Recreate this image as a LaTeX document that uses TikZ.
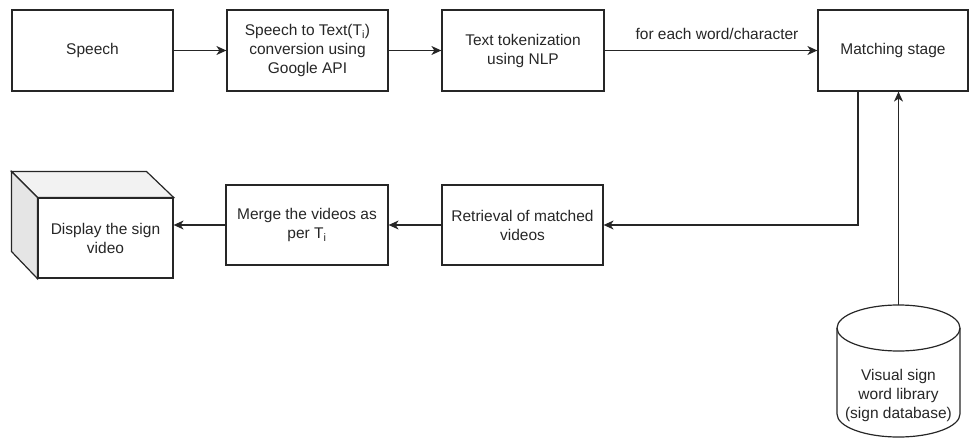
\documentclass[tikz,border=0pt]{standalone}
\usepackage{fontspec}
\setmainfont{Liberation Sans}
\usetikzlibrary{arrows.meta}

\begin{document}
\begin{tikzpicture}[x=1pt,y=-1pt,
  color=black!85, line width=1.2pt,
  every node/.style={font=\fontsize{15.5}{19}\selectfont},
  box/.style={draw, align=center, minimum width=161pt, minimum height=81pt, inner sep=0pt},
  arr/.style={-{Stealth[length=10pt,width=9pt,inset=3pt]}}]
  \useasboundingbox (0,0) rectangle (970,439);
  % top row
  \node[box] (speech) at (92.5,50.5) {Speech};
  \node[box] (stt) at (307.5,50.5) {Speech to Text(T\textsubscript{i})\\conversion using\\Google API};
  \node[box, minimum width=162pt] (token) at (523,50.5) {Text tokenization\\using NLP};
  \node[box, minimum width=150pt] (match) at (893,50.5) {Matching stage};
  % bottom row
  \node[box, minimum height=80pt] (retr) at (522.5,225) {Retrieval of matched\\videos};
  \node[box, minimum width=162pt, minimum height=80pt] (merge) at (307,225) {Merge the videos as\\per T\textsubscript{i}};
  \node[box, minimum width=135pt, minimum height=80pt] (display) at (105.5,238) {Display the sign\\video};
  \filldraw[fill=black!5] (display.north west) -- ++(-26,-26) -- ++(135,0) -- (display.north east) -- cycle;
  \filldraw[fill=black!10] (display.north west) -- ++(-26,-26) -- ++(0,80) -- (display.south west) -- cycle;
  % database
  \draw (837,328) -- (837,414) arc[start angle=180, end angle=0, x radius=61.5, y radius=23] -- (960,328);
  \draw (898.5,328) ellipse [x radius=61.5, y radius=23];
  \node[align=center] (db) at (898.5,395) {Visual sign\\word library\\(sign database)};
  \coordinate (dbtop) at (898.5,305);
  % connectors
  \draw[arr] (speech) -- (stt);
  \draw[arr] (stt) -- (token);
  \draw[arr] (token) -- node[above=7pt, xshift=6pt] {for each word/character} (match);
  \draw[arr] ([xshift=-35pt]match.south) |- (retr);
  \draw[arr] (retr) -- (merge);
  \draw[arr] (merge.west) -- (merge.west -| display.east);
  \draw[arr] (dbtop) -- (dbtop |- match.south);
\end{tikzpicture}
\end{document}
